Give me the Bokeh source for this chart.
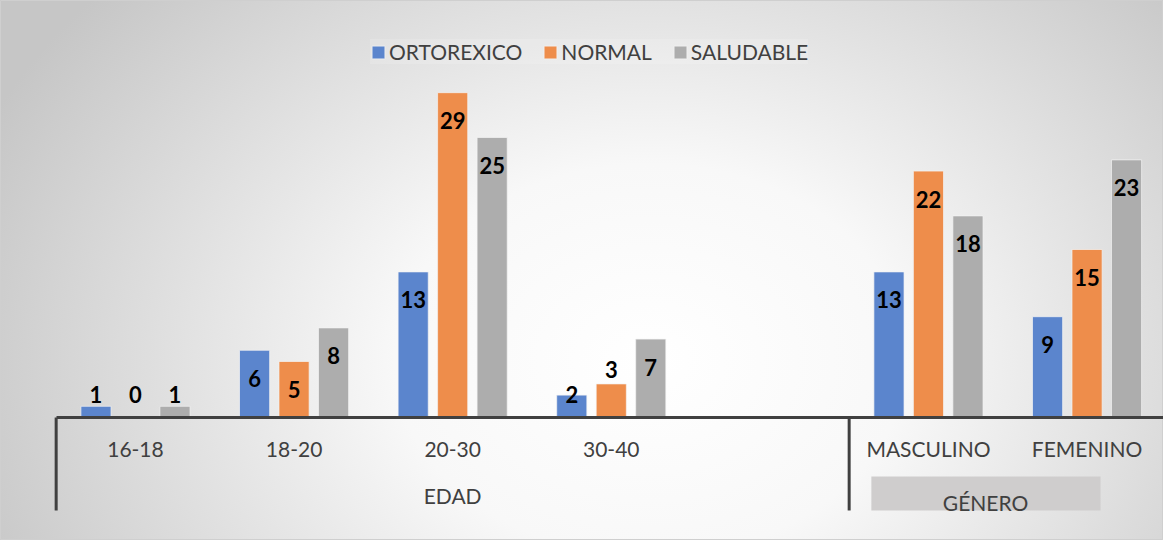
from bokeh.plotting import figure
from bokeh.models import Range1d, LinearAxis, FixedTicker, Legend, LegendItem, ColumnDataSource
from bokeh.core.properties import value
from bokeh.embed import file_html
from bokeh.resources import INLINE

# ---------------- data ----------------
categories = ["16-18", "18-20", "20-30", "30-40", "", "MASCULINO", "FEMENINO"]
series_names = ["ORTOREXICO", "NORMAL", "SALUDABLE"]
ortorexico = [1, 6, 13, 2, None, 13, 9]
normal = [0, 5, 29, 3, None, 22, 15]
saludable = [1, 8, 25, 7, None, 18, 23]
group_names = ["EDAD", "GÉNERO"]
group_members = [[0, 1, 2, 3, 4], [5, 6]]

# ---------------- style ----------------
colors = ["#5B85CD", "#EE8D4B", "#ADADAD"]
FONT = "Lato"
TXT = "#404040"
bar_w = 0.19
bar_step = 0.249
W, H = 1163, 540

p = figure(width=W, height=H, output_backend="svg", toolbar_location=None,
           x_range=Range1d(-0.851, 6.482), y_range=Range1d(-10.98, 37.23),
           x_axis_type=None, y_axis_type=None, min_border=0,
           background_fill_color=None, border_fill_color=None,
           outline_line_color="#cfcfcf", outline_line_width=1)
p.grid.visible = False
p.styles = {"background": "radial-gradient(ellipse 730px 560px at 650px 360px, #ffffff 0%, #f8f8f8 35%, #c6c6c6 100%)"}

# gray box behind the second group label
p.quad(left=[4.64], right=[6.085], top=[-5.27], bottom=[-8.3],
       fill_color="#cfcdcd", line_color=None)

# separators between groups
sep_x = [min(m) - 0.5 for m in group_members]
p.segment(x0=sep_x, y0=[0] * len(sep_x), x1=sep_x, y1=[-8.3] * len(sep_x),
          line_color=TXT, line_width=3)

series_vals = [ortorexico, normal, saludable]
items = []


def label_y(v):
    if v >= 5:
        return v - 2.5
    if v >= 3:
        return v + 1.3
    return 2.05


for k, (name, vals, col) in enumerate(zip(series_names, series_vals, colors)):
    off = (k - 1) * bar_step
    xs = [i + off for i, v in enumerate(vals) if v is not None]
    tops = [v for v in vals if v is not None]
    src = ColumnDataSource(dict(x=xs, top=tops))
    r = p.vbar(x="x", top="top", bottom=0, width=bar_w, source=src,
               fill_color=col, line_color="#f4f4f4", line_alpha=0.7, line_width=1)
    items.append(LegendItem(label=name, renderers=[r]))
    lsrc = ColumnDataSource(dict(x=xs, y=[label_y(v) for v in tops], t=[str(v) for v in tops]))
    p.text(x="x", y="y", text="t", source=lsrc, text_align="center",
           text_baseline="middle", text_font=value(FONT), text_font_style="bold",
           text_font_size="22px", text_color="black")

# category axis
ax = LinearAxis(fixed_location=0, bounds=(-0.5, 7))
ax.ticker = FixedTicker(ticks=list(range(len(categories))))
ax.major_label_overrides = {i: c for i, c in enumerate(categories)}
ax.axis_line_color = TXT
ax.axis_line_width = 3
ax.major_tick_line_color = None
ax.minor_tick_line_color = None
ax.major_label_text_font = FONT
ax.major_label_text_font_size = "21px"
ax.major_label_text_color = TXT
ax.major_label_standoff = 12
p.add_layout(ax, "below")

# group axes (one per group label)
group_label_x = [2.0, 5.36]
group_standoff = [59, 66]
for gx, gname, gs in zip(group_label_x, group_names, group_standoff):
    gax = LinearAxis(fixed_location=0)
    gax.ticker = FixedTicker(ticks=[gx])
    gax.major_label_overrides = {gx: gname}
    gax.axis_line_color = None
    gax.major_tick_line_color = None
    gax.minor_tick_line_color = None
    gax.major_label_text_font = FONT
    gax.major_label_text_font_size = "21px"
    gax.major_label_text_color = TXT
    gax.major_label_standoff = gs
    p.add_layout(gax, "below")

legend = Legend(items=items, orientation="horizontal", location=(370, 476),
                glyph_width=16, glyph_height=16, label_standoff=3, spacing=20,
                padding=0, margin=0, border_line_color=None,
                background_fill_color="white", background_fill_alpha=0.15,
                label_text_font=FONT, label_text_font_size="21px",
                label_text_color=TXT)
p.add_layout(legend, "center")

open("out.html", "w").write(file_html(p, INLINE))
